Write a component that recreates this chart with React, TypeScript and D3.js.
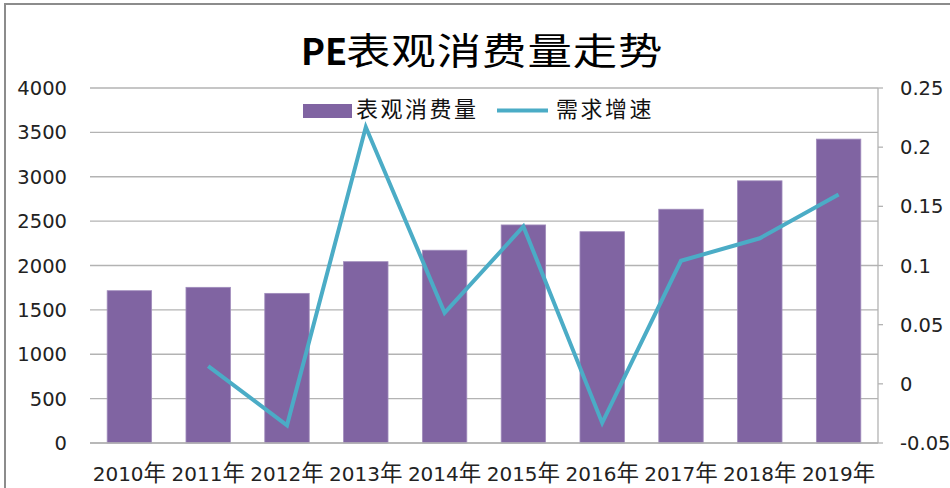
import React from "react";
import * as d3 from "d3";

const categories = ["2010年", "2011年", "2012年", "2013年", "2014年", "2015年", "2016年", "2017年", "2018年", "2019年"];
const consumption = [1716, 1754, 1686, 2043, 2172, 2457, 2381, 2634, 2954, 3424];
const growth: (number | null)[] = [null, 0.015, -0.035, 0.217, 0.06, 0.133, -0.033, 0.104, 0.123, 0.16];
const leftTicks = [0, 500, 1000, 1500, 2000, 2500, 3000, 3500, 4000];
const rightTicks = [-0.05, 0, 0.05, 0.1, 0.15, 0.2, 0.25];
const rightTickLabels = ["-0.05", "0", "0.05", "0.1", "0.15", "0.2", "0.25"];
const titleLatin = "PE";
const titleCjk = "表观消费量走势";
const seriesNames = ["表观消费量", "需求增速"];

const W = 950;
const H = 488;
const plotL = 90;
const plotR = 878;
const plotT = 88;
const plotB = 443;

const FONT = "'DejaVu Sans', 'Noto Sans CJK SC', sans-serif";
const CJK = "'Noto Sans CJK SC', 'DejaVu Sans', sans-serif";

export default function App() {
  const x = d3.scaleBand<string>().domain(categories).range([plotL, plotR]).paddingInner(0.436).paddingOuter(0.218);
  const xc = d3.scaleBand<string>().domain(categories).range([plotL, plotR]);
  const yL = d3.scaleLinear().domain([0, 4000]).range([plotB, plotT]);
  const yR = d3.scaleLinear().domain([-0.05, 0.25]).range([plotB, plotT]);

  const lineGen = d3
    .line<number | null>()
    .defined((d) => d !== null)
    .x((_, i) => (xc(categories[i]) as number) + xc.bandwidth() / 2)
    .y((d) => yR(d as number));

  return (
    <svg width={W} height={H} style={{ position: "absolute", left: 0, top: 0, background: "#fff" }}>
      <rect x={0} y={0} width={W} height={H} fill="#fff" />
      {/* outer frame */}
      <rect x={5} y={4} width={W + 10} height={H + 10} fill="none" stroke="#8c8c8c" strokeWidth={2} />

      {/* title */}
      <text x={301} y={65} textAnchor="start" fontFamily={CJK} fontWeight="bold" fontSize={36} fill="#000">
        {titleLatin}
      </text>
      <text
        transform="translate(346,65) scale(1.2,1)"
        fontFamily={CJK}
        fontWeight="normal"
        fontSize={37}
        letterSpacing={0.8}
        fill="#000"
      >
        {titleCjk}
      </text>

      {/* gridlines */}
      {leftTicks.map((t) => (
        <line key={"g" + t} x1={plotL} x2={plotR} y1={yL(t)} y2={yL(t)} stroke="#b3b3b3" strokeWidth={1.3} />
      ))}

      {/* left tick labels */}
      {leftTicks.map((t) => (
        <text key={"l" + t} x={67} y={yL(t)} dy="0.36em" textAnchor="end" fontFamily={FONT} fontSize={19.5} fill="#222">
          {t}
        </text>
      ))}

      {/* right axis */}
      <line x1={plotR} x2={plotR} y1={plotT} y2={plotB} stroke="#b3b3b3" strokeWidth={1.3} />
      {rightTicks.map((t, i) => (
        <g key={"r" + t}>
          <line x1={plotR} x2={plotR + 5} y1={yR(t)} y2={yR(t)} stroke="#b3b3b3" strokeWidth={1.3} />
          <text x={900} y={yR(t)} dy="0.36em" textAnchor="start" fontFamily={FONT} fontSize={19.5} fill="#222">
            {rightTickLabels[i]}
          </text>
        </g>
      ))}

      {/* bars */}
      {consumption.map((v, i) => (
        <rect
          key={"b" + i}
          x={x(categories[i])}
          y={yL(v)}
          width={x.bandwidth()}
          height={plotB - yL(v)}
          fill="#8064A2"
          stroke="#a08cbc"
          strokeWidth={0.8}
        />
      ))}

      {/* baseline */}
      <line x1={plotL} x2={plotR} y1={plotB} y2={plotB} stroke="#b3b3b3" strokeWidth={1.5} />

      {/* line */}
      <path d={lineGen(growth) || ""} fill="none" stroke="#4BACC6" strokeWidth={4} strokeLinejoin="miter" />

      {/* x labels */}
      {categories.map((c) => (
        <text
          key={"x" + c}
          x={(xc(c) as number) + xc.bandwidth() / 2}
          y={480.5}
          textAnchor="middle"
          fontFamily={FONT}
          fontSize={20}
          fill="#222"
        >
          {c.slice(0, 4)}
          <tspan fontFamily={CJK} fontSize={22.5}>
            {c.slice(4)}
          </tspan>
        </text>
      ))}

      {/* legend */}
      <rect x={303} y={104} width={49} height={14} fill="#8064A2" />
      <text x={356} y={117} fontFamily={CJK} fontSize={22} letterSpacing={2.5} fill="#111">
        {seriesNames[0]}
      </text>
      <line x1={497} x2={548} y1={110.5} y2={110.5} stroke="#4BACC6" strokeWidth={4} />
      <text x={556} y={117} fontFamily={CJK} fontSize={22} letterSpacing={2.5} fill="#111">
        {seriesNames[1]}
      </text>
    </svg>
  );
}
